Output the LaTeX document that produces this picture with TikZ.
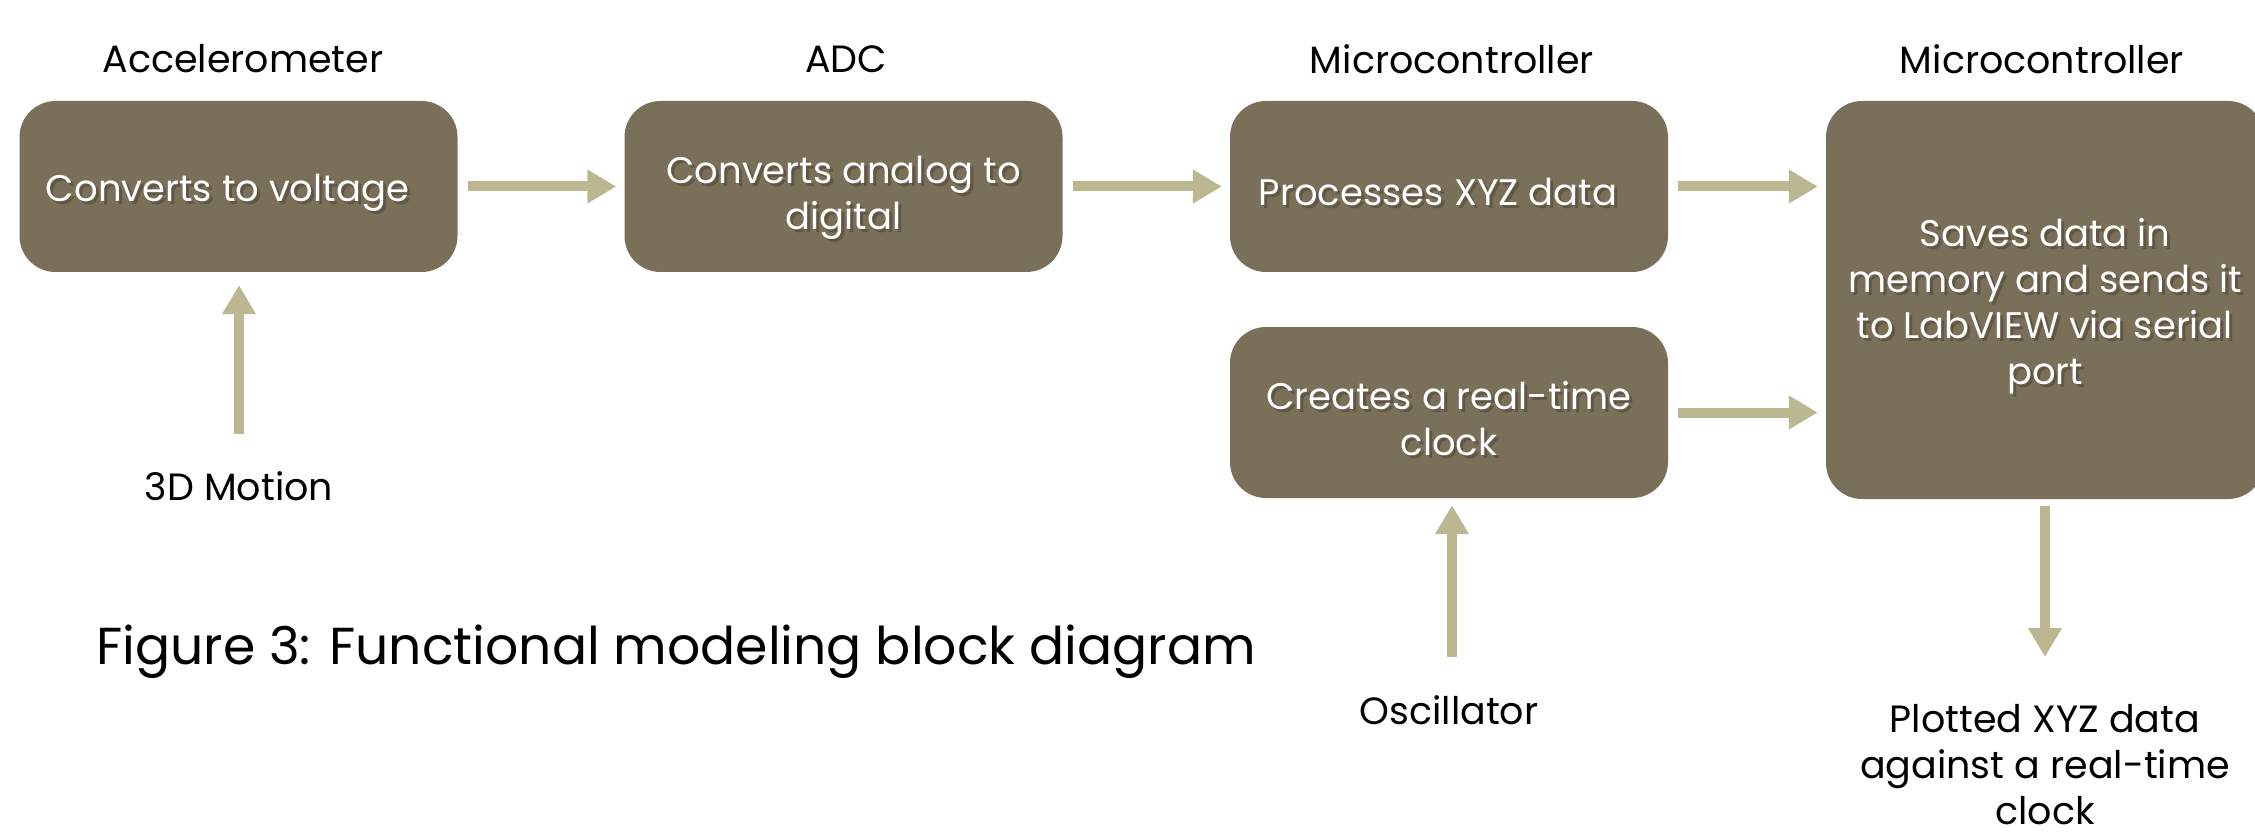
\documentclass[tikz,border=0pt]{standalone}
\usepackage{fontspec}
\setmainfont{Poppins}
\usetikzlibrary{arrows.meta}
\definecolor{boxc}{HTML}{7A6F58}
\definecolor{arrc}{HTML}{BBB891}
\begin{document}
\begin{tikzpicture}[x=1pt,y=-1pt,
  blk/.style={fill=boxc, rounded corners=36pt, minimum width=438pt, minimum height=171pt, inner sep=0pt},
  txt/.style={text=white, align=center, font=\fontsize{37}{46}\selectfont, inner sep=0pt},
  shd/.style={text=black, opacity=0.22, align=center, font=\fontsize{37}{46}\selectfont, inner sep=0pt},
  lbl/.style={text=black, align=center, font=\fontsize{38}{46}\selectfont, inner sep=0pt},
  arr/.style={draw=arrc, line width=10pt, -{Triangle[width=32pt,length=29pt]}, shorten <=10pt, shorten >=8pt}]
\useasboundingbox (0,0) rectangle (2255,837);
\node[blk,
  label={[shd, xshift=-8pt, yshift=-9pt]center:Converts to voltage},
  label={[txt, xshift=-11pt, yshift=-6pt]center:Converts to voltage}] (b1) at (238.5,186.5) {};
\node[blk,
  label={[shd, xshift=3pt, yshift=-14pt]center:{Converts analog to\\digital}},
  label={[txt, yshift=-11pt]center:{Converts analog to\\digital}}] (b2) at (843.5,186.5) {};
\node[blk,
  label={[shd, xshift=-8pt, yshift=-8pt]center:Processes XYZ data},
  label={[txt, xshift=-11pt, yshift=-5pt]center:Processes XYZ data}] (b3) at (1449,186.5) {};
\node[blk,
  label={[shd, xshift=3pt, yshift=-9pt]center:{Creates a real-time\\clock}},
  label={[txt, yshift=-6pt]center:{Creates a real-time\\clock}}] (b4) at (1449,412.5) {};
\node[blk, minimum height=398pt,
  label={[shd, xshift=3pt, yshift=-9pt]center:{Saves data in\\memory and sends it\\to LabVIEW via serial\\port}},
  label={[txt, yshift=-6pt]center:{Saves data in\\memory and sends it\\to LabVIEW via serial\\port}}] (b5) at (2045,300) {};
\node[lbl] (t1) at (243,59) {Accelerometer};
\node[lbl] (t2) at (846,59) {ADC};
\node[lbl] (t3) at (1452,59) {Microcontroller};
\node[lbl] (t4) at (2042,59) {Microcontroller};
\node[lbl] (m3d) at (239,486) {3D Motion};
\node[lbl] (osc) at (1449,710) {Oscillator};
\node[lbl] (out) at (2045,765) {Plotted XYZ data\\against a real-time\\clock};
\node[lbl, font=\fontsize{52}{60}\selectfont] (cap) at (676,652) {Figure 3: Functional modeling block diagram};
\coordinate (m3dtop) at (239,434);
\coordinate (osctop) at (1452,657);
\coordinate (outtop) at (2045,657);
\draw[arr] (b1) -- (b2);
\draw[arr] (b2) -- (b3);
\draw[arr] (b3.east) -- (b3.east -| b5.west);
\draw[arr] (b4.east) -- (b4.east -| b5.west);
\draw[arr, shorten <=0pt, shorten >=13pt] (m3dtop) -- (m3dtop |- b1.south);
\draw[arr, shorten <=0pt, shorten >=7pt] (osctop) -- (osctop |- b4.south);
\draw[arr, shorten <=7pt, shorten >=0pt] (b5.south) -- (outtop);
\end{tikzpicture}
\end{document}
